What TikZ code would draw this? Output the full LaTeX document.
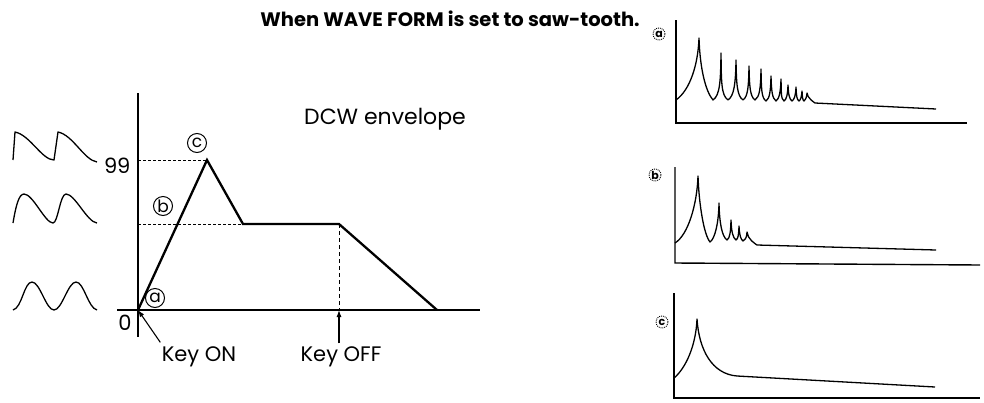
\documentclass[tikz,border=0pt]{standalone}
\usepackage{fontspec}
\setmainfont{Poppins}
\usetikzlibrary{arrows.meta}

% one spike: rise to peak (#1,#2), fall to valley (#3,#4), control length #5
\newcommand{\spk}[5]{.. controls +(#5/4,-#5/6) and +(-0.4,#5) .. (#1,#2)
  .. controls +(0.4,#5) and +(-#5/4,-#5/6) .. (#3,#4)}

\tikzset{
  axis line/.style={line width=1.4pt},
  env line/.style={line width=2.3pt, line join=miter},
  wave line/.style={line width=1.3pt, line join=round},
  level line/.style={line width=0.9pt, dash pattern=on 2.5pt off 2.5pt},
  tag/.style={circle, draw, line width=1pt, inner sep=0pt, minimum size=19pt, font=\fontsize{17}{17}\selectfont},
  small tag/.style={circle, draw, densely dotted, line width=0.9pt, inner sep=0pt, minimum size=12pt, font=\fontsize{11}{11}\selectfont\bfseries},
  label text/.style={font=\fontsize{21}{24}\selectfont}
}

\begin{document}
\begin{tikzpicture}[x=1pt, y=-1pt]
  \useasboundingbox (0,0) rectangle (984,402);

  \node[font=\fontsize{19.5}{22}\selectfont\bfseries] (title) at (450,19) {When WAVE FORM is set to saw-tooth.};

  % wave shapes on the left
  \draw[wave line] (13,160) -- (15,132) .. controls (30,135) and (42,160) .. (54,160)
    -- (58,132) .. controls (73,135) and (84,160) .. (97,162);
  \draw[wave line] (13,223) .. controls (16,205) and (19,194) .. (24,194)
    .. controls (33,194) and (45,223) .. (53,223)
    .. controls (58,223) and (60,194) .. (66,194)
    .. controls (75,194) and (87,222) .. (97,223);
  \draw[wave line] (13,310) .. controls (22,308) and (24,282) .. (32,282)
    .. controls (40,282) and (46,310) .. (54,310)
    .. controls (62,310) and (68,282) .. (76,282)
    .. controls (84,282) and (88,308) .. (97,310);

  % envelope
  \coordinate (O) at (138,310);
  \coordinate (C) at (207,160);
  \coordinate (D) at (243,224);
  \coordinate (S) at (339,224);
  \coordinate (R) at (437,310);
  \coordinate (koff) at (339,310);

  \draw[axis line] (138,93) -- (138,337);
  \draw[axis line] (117,310) -- (480,310);
  \draw[level line] (O |- C) -- (C);
  \draw[level line] (O |- D) -- (D);
  \draw[level line, dash pattern=on 4pt off 3pt] (S) -- (koff);
  \draw[env line] (O) -- (C) -- (D) -- (S) -- (R);

  \node[label text, anchor=east] (top) at (134,166) {99};
  \node[label text, anchor=east] (zero) at (135,323) {0};
  \node[tag] (tc) at (197,143) {c};
  \node[tag] (tb) at (163,206) {b};
  \node[tag] (ta) at (155,298) {a};
  \node[label text, font=\fontsize{22}{24}\selectfont] (dcw) at (385,119) {DCW envelope};

  \node[label text] (keyon) at (199,357) {Key ON};
  \node[label text] (keyoff) at (341,357) {Key OFF};
  \draw[line width=1.1pt, -{Latex[length=7pt,width=5pt]}] (keyon.north west) ++(2,-1) -- (O);
  \draw[line width=1.1pt, -{Latex[length=7pt,width=5pt]}] (keyoff.north -| koff) -- (koff);

  % spectra on the right
  \draw[axis line] (676,20) -- (676,123) -- (967,123);
  \draw[wave line] (676,100) .. controls (690,90) and (698,65) .. (699,38)
    .. controls (700,70) and (706,92) .. (713,100)
    \spk{721}{53}{728}{100}{28}
    \spk{736}{60}{743}{100}{24}
    \spk{749}{66}{755}{100}{20}
    \spk{761}{69}{766}{101}{19}
    \spk{771}{76}{776}{101}{15}
    \spk{781}{79}{784}{101}{13}
    \spk{788}{85}{792}{101}{10}
    \spk{796}{87}{799}{101}{9}
    \spk{802}{91}{804}{101}{6}
    \spk{807}{93}{815}{103}{5}
    -- (936,109);
  \node[small tag] (sa) at (659,34) {a};

  \draw[axis line] (675,167) -- (675,263) -- (980,265);
  \draw[wave line] (675,243) .. controls (688,235) and (697,205) .. (698,176)
    .. controls (699,205) and (704,235) .. (710,242)
    \spk{719}{203}{727}{240}{20}
    \spk{731}{220}{736}{240}{12}
    \spk{739}{226}{743}{241}{9}
    \spk{747}{232}{757}{245}{7}
    -- (936,250);
  \node[small tag] (sb) at (655,175) {b};

  \draw[axis line] (674,293) -- (674,398) -- (980,398);
  \draw[wave line] (674,378) .. controls (686,368) and (696,345) .. (697,319)
    .. controls (699,350) and (712,374) .. (737,376) -- (935,387);
  \node[small tag] (sc) at (662,322) {c};
\end{tikzpicture}
\end{document}
